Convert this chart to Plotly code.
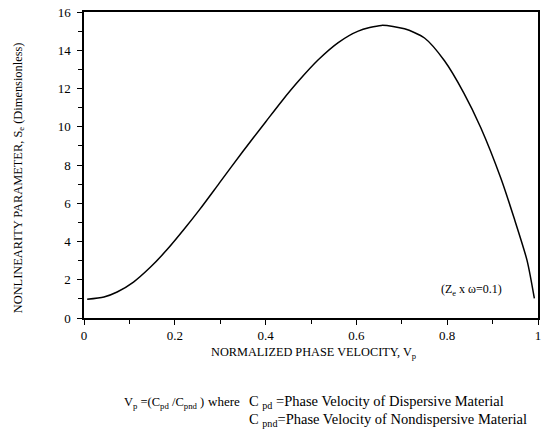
import plotly.graph_objects as go

# Curve data
vp = [0.007, 0.044, 0.073, 0.109, 0.146, 0.182, 0.219, 0.255, 0.298, 0.349, 0.40,
      0.436, 0.473, 0.516, 0.560, 0.604, 0.655, 0.706, 0.75, 0.794, 0.837, 0.874,
      0.918, 0.947, 0.976, 0.992]
se = [0.98, 1.10, 1.36, 1.88, 2.65, 3.55, 4.60, 5.68, 7.05, 8.68, 10.25,
      11.35, 12.4, 13.5, 14.4, 15.0, 15.3, 15.12, 14.64, 13.45, 11.75, 9.95,
      7.32, 5.25, 3.0, 1.02]

x_ticks = [0, 0.2, 0.4, 0.6, 0.8, 1]
x_tick_labels = ["0", "0.2", "0.4", "0.6", "0.8", "1"]
y_ticks = [0, 2, 4, 6, 8, 10, 12, 14, 16]
y_tick_labels = [str(v) for v in y_ticks]

FONT = "Liberation Serif"

fig = go.Figure()
fig.add_trace(go.Scatter(x=vp, y=se, mode="lines",
                         line=dict(color="black", width=1.5, shape="spline", smoothing=0.7),
                         showlegend=False, hoverinfo="skip"))

axis_common = dict(showline=True, linecolor="black", linewidth=1.5, mirror=True,
                   showgrid=False, zeroline=False, ticks="outside", ticklen=5,
                   tickwidth=1, tickcolor="black",
                   tickfont=dict(family=FONT, size=13, color="black"))

fig.update_xaxes(range=[0, 1], tickvals=x_ticks, ticktext=x_tick_labels,
                 minor=dict(dtick=0.1, ticks="outside", ticklen=4, tickcolor="black"),
                 **axis_common)
fig.update_yaxes(range=[0, 16], tickvals=y_ticks, ticktext=y_tick_labels,
                 minor=dict(dtick=1, ticks="outside", ticklen=4, tickcolor="black"),
                 ticklabelstandoff=4,
                 **axis_common)

H = 310.0
W = 457.0
def px(x):
    return (x - 84) / W
def py(y):
    return (318 - y) / H

ann = [
    dict(x=px(315), y=py(353), text="NORMALIZED PHASE VELOCITY, V<sub>p</sub>",
         xanchor="center", yanchor="middle", font=dict(size=12.3)),
    dict(x=px(18), y=py(176), text="NONLINEARITY PARAMETER, S<sub>e</sub> (Dimensionless)",
         xanchor="center", yanchor="middle", textangle=-90, font=dict(size=12.4)),
    dict(x=px(441), y=py(290), text="(Z<sub>e</sub> x ω=0.1)",
         xanchor="left", yanchor="middle", font=dict(size=12)),
    dict(x=px(122), y=py(404), text="V<sub>p</sub> =(C<sub>pd</sub> /C<sub>pnd</sub> )",
         xanchor="left", yanchor="middle", font=dict(size=12.5)),
    dict(x=px(207), y=py(403), text="where",
         xanchor="left", yanchor="middle", font=dict(size=13)),
    dict(x=px(248), y=py(403), text="C <sub>pd</sub> =Phase Velocity of Dispersive Material",
         xanchor="left", yanchor="middle", font=dict(size=14.5)),
    dict(x=px(248), y=py(421), text="C <sub>pnd</sub>=Phase Velocity of Nondispersive Material",
         xanchor="left", yanchor="middle", font=dict(size=14.5)),
]
for a in ann:
    a["xref"] = "paper"
    a["yref"] = "paper"
    a["showarrow"] = False
    a["font"].update(family=FONT, color="black")
fig.update_layout(annotations=ann)

fig.update_layout(width=546, height=437, margin=dict(l=84, r=5, t=8, b=119),
                  paper_bgcolor="white", plot_bgcolor="white",
                  font=dict(family=FONT, color="black"))

fig.write_html("out.html")
